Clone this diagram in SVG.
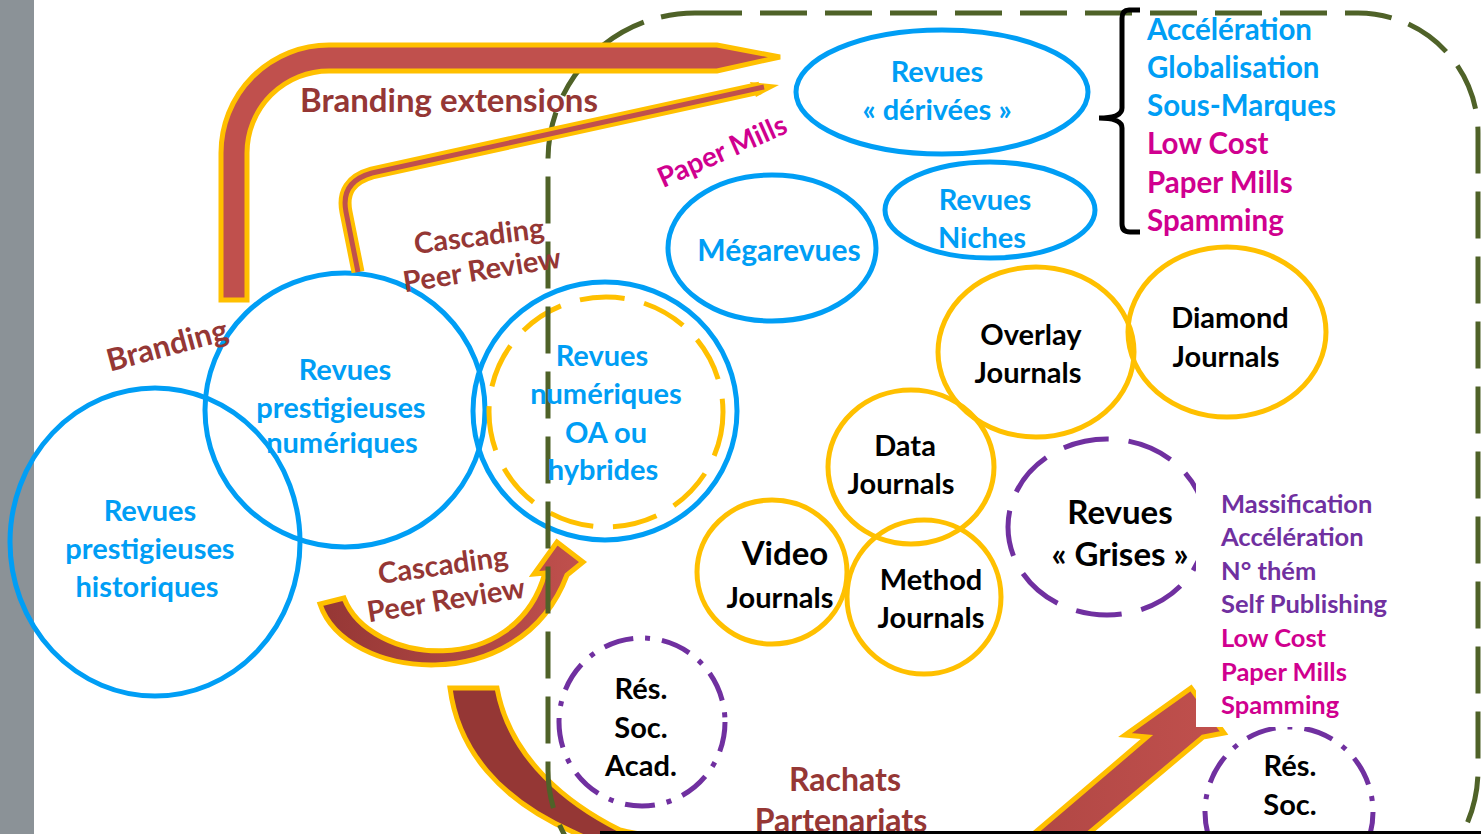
<svg xmlns="http://www.w3.org/2000/svg" width="1481" height="834" viewBox="0 0 1481 834">
<style>
text{font-family:Lato,"Liberation Sans",sans-serif;font-weight:bold;text-anchor:middle}
.l{text-anchor:start}
.bl{fill:#009ef5}
.bk{fill:#000}
.br{fill:#953735}
.mg{fill:#d0008f}
.pu{fill:#7030a0}
.f26{font-size:29px}
.f30{font-size:33px}
.cb{fill:none;stroke:#009ef5;stroke-width:5}
.cy{fill:none;stroke:#ffc000;stroke-width:5}
.arr{stroke:#ffc000;stroke-width:5;stroke-linejoin:miter}
</style>
<defs>
<linearGradient id="g1" gradientUnits="userSpaceOnUse" x1="320" y1="0" x2="580" y2="0">
<stop offset="0" stop-color="#953735"/><stop offset="1" stop-color="#c0504d"/>
</linearGradient>
<linearGradient id="g2" gradientUnits="userSpaceOnUse" x1="450" y1="0" x2="1220" y2="0">
<stop offset="0" stop-color="#953735"/><stop offset="0.3" stop-color="#953735"/><stop offset="1" stop-color="#c0504d"/>
</linearGradient>
</defs>
<rect x="0" y="0" width="1481" height="834" fill="#fff"/>
<rect x="0" y="0" width="34" height="834" fill="#8b9297"/>

<g id="n-hist"><ellipse class="cb" cx="155" cy="542" rx="145" ry="154"/></g>
<g id="n-num"><ellipse class="cb" cx="345" cy="410" rx="140" ry="137"/></g>
<g id="n-oa"><ellipse class="cb" cx="605" cy="411" rx="132" ry="129"/>
<ellipse class="cy" cx="606" cy="412" rx="117" ry="115" stroke-dasharray="45 20"/></g>
<g id="n-der"><ellipse class="cb" cx="942" cy="92" rx="146" ry="62"/></g>
<g id="n-mega"><ellipse class="cb" cx="772" cy="248" rx="104" ry="73"/></g>
<g id="n-niche"><ellipse class="cb" cx="990" cy="210" rx="105" ry="48"/></g>
<g id="n-overlay"><ellipse class="cy" cx="1036" cy="352" rx="98" ry="85"/></g>
<g id="n-diamond"><ellipse class="cy" cx="1227" cy="332" rx="99" ry="85"/></g>
<g id="n-data"><ellipse class="cy" cx="911" cy="467" rx="83" ry="77"/></g>
<g id="n-video"><ellipse class="cy" cx="772" cy="572" rx="75" ry="72"/></g>
<g id="n-method"><ellipse class="cy" cx="924" cy="597" rx="77" ry="77"/></g>
<g id="n-grises"><ellipse cx="1107" cy="527" rx="99" ry="88" fill="none" stroke="#7030a0" stroke-width="5" stroke-dasharray="46 20"/></g>
<g id="n-res1"><ellipse cx="642" cy="722" rx="83" ry="84" fill="none" stroke="#7030a0" stroke-width="5" stroke-dasharray="30 12 5 12"/></g>
<g id="n-res2"><ellipse cx="1289" cy="812" rx="84" ry="85" fill="none" stroke="#7030a0" stroke-width="5" stroke-dasharray="30 12 5 12"/></g>

<g id="connectors">
<path class="arr" fill="url(#g1)" d="M320,604 C345,680 520,700 567,575 L583,562 L557,542 L534,574 L545,573 C515,680 370,665 344,598 Z"/>
<path class="arr" fill="url(#g2)" d="M450,688 C458,750 500,800 573,832 C620,855 680,870 720,878 L1000,880 L1088,834 L1203,737 L1224,733 L1191,688 L1125,735 L1147,737 L1031,836 L700,842 C660,838 640,835 620,830 C570,805 510,760 497,688 Z"/>
<path d="M695,13 L1358,13 A120,120 0 0 1 1478,133 L1478,770 A136,136 0 0 1 1342,906 L684,906 A136,136 0 0 1 548,770 L548,160 A147,147 0 0 1 695,13 Z" fill="none" stroke="#4f6228" stroke-width="5" stroke-dasharray="47 18"/>
<path class="arr" fill="#c0504d" d="M221,300 L221,153 A108,108 0 0 1 329,45 L717,45 L780,57 L717,71 L329,71 A82,82 0 0 0 247,153 L247,300 Z"/>
<path d="M358,272 L346,212 Q340,182 372,173 L760,88" fill="none" stroke="#ffc000" stroke-width="13"/>
<polygon points="750,82 779,85 756,97" fill="#ffc000"/>
<path d="M358,272 L346,212 Q340,182 372,173 L764,87" fill="none" stroke="#c0504d" stroke-width="5"/>
<path d="M1140,10 L1129,10 Q1122,10 1122,18 L1122,108 Q1122,118 1099,118 Q1122,118 1122,128 L1122,224 Q1122,232 1130,232 L1140,232" fill="none" stroke="#000" stroke-width="5"/>
</g>

<g id="labels">
<text class="br" font-size="33" x="449" y="112">Branding extensions</text>
<text class="br" font-size="31" transform="translate(167,345) rotate(-15)" y="11">Branding</text>
<text class="mg" font-size="28" transform="translate(722,151) rotate(-24)" y="10">Paper Mills</text>
<text class="br f26" transform="translate(479,236) rotate(-7)" y="10">Cascading</text>
<text class="br f26" transform="translate(482,270) rotate(-9)" y="10">Peer Review</text>
<text class="br f26" transform="translate(443,565) rotate(-8)" y="10">Cascading</text>
<text class="br f26" transform="translate(446,600) rotate(-9)" y="10">Peer Review</text>
<text class="br" font-size="32" x="845" y="791">Rachats</text>
<text class="br" font-size="32" x="841" y="832">Partenariats</text>
</g>

<g id="t-hist"><text class="bl f26" x="150" y="521">Revues</text><text class="bl f26" x="150" y="559">prestigieuses</text><text class="bl f26" x="147" y="597">historiques</text></g>
<g id="t-num"><text class="bl f26" x="345" y="380">Revues</text><text class="bl f26" x="341" y="418">prestigieuses</text><text class="bl f26" x="342" y="453">numériques</text></g>
<g id="t-oa"><text class="bl f26" x="602" y="366">Revues</text><text class="bl f26" x="606" y="404">numériques</text><text class="bl f26" x="606" y="443">OA ou</text><text class="bl f26" x="603" y="480">hybrides</text></g>
<g id="t-der"><text class="bl f26" x="937" y="82">Revues</text><text class="bl f26" x="937" y="120">« dérivées »</text></g>
<g id="t-mega"><text class="bl" font-size="30" x="779" y="261">Mégarevues</text></g>
<g id="t-niche"><text class="bl f26" x="985" y="210">Revues</text><text class="bl f26" x="982" y="248">Niches</text></g>
<g id="t-overlay"><text class="bk f26" x="1031" y="345">Overlay</text><text class="bk f26" x="1028" y="383">Journals</text></g>
<g id="t-diamond"><text class="bk f26" x="1230" y="328">Diamond</text><text class="bk f26" x="1226" y="367">Journals</text></g>
<g id="t-data"><text class="bk f26" x="905" y="456">Data</text><text class="bk f26" x="901" y="494">Journals</text></g>
<g id="t-video"><text class="bk f30" x="785" y="565">Video</text><text class="bk f26" x="780" y="608">Journals</text></g>
<g id="t-method"><text class="bk f26" x="931" y="590">Method</text><text class="bk f26" x="931" y="628">Journals</text></g>
<g id="t-grises"><text class="bk f30" x="1120" y="524">Revues</text><text class="bk f30" x="1120" y="566">« Grises »</text></g>
<g id="t-res1"><text class="bk f26" x="641" y="699">Rés.</text><text class="bk f26" x="641" y="738">Soc.</text><text class="bk f26" x="641" y="776">Acad.</text></g>
<g id="t-res2"><text class="bk f26" x="1290" y="776">Rés.</text><text class="bk f26" x="1290" y="815">Soc.</text><text class="bk f26" x="1290" y="854">Acad.</text></g>

<g id="list1" font-size="29.5">
<text class="l bl" x="1147" y="40">Accélération</text>
<text class="l bl" x="1147" y="78">Globalisation</text>
<text class="l bl" x="1147" y="116">Sous-Marques</text>
<text class="l mg" x="1147" y="154">Low Cost</text>
<text class="l mg" x="1147" y="193">Paper Mills</text>
<text class="l mg" x="1147" y="231">Spamming</text>
</g>
<g id="list2" font-size="25.5">
<rect x="1196" y="484" width="194" height="243" fill="#fff"/>
<text class="l pu" x="1221" y="513">Massification</text>
<text class="l pu" x="1221" y="546">Accélération</text>
<text class="l pu" x="1221" y="580">N° thém</text>
<text class="l pu" x="1221" y="613">Self Publishing</text>
<text class="l mg" x="1221" y="647">Low Cost</text>
<text class="l mg" x="1221" y="681">Paper Mills</text>
<text class="l mg" x="1221" y="714">Spamming</text>
</g>
<line x1="600" y1="832.5" x2="1481" y2="832.5" stroke="#000" stroke-width="3"/>
</svg>
